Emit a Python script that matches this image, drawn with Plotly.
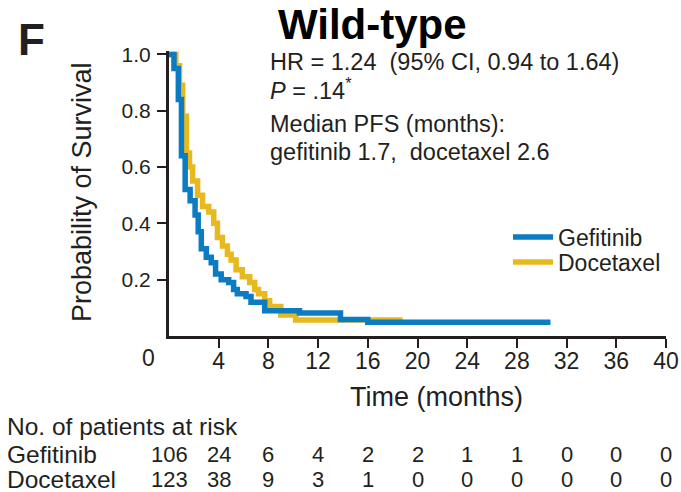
import plotly.graph_objects as go

# ---- data ----
gef_time = [0, 0.4, 0.75, 1.0, 1.3, 1.7, 2.1, 2.35, 2.6, 3.0, 3.4, 3.75, 4.2, 4.8, 5.2, 5.5, 6.2, 6.6, 7.7, 10.5, 13.8, 16.0, 30.7]
gef_surv = [1.0, 0.95, 0.84, 0.64, 0.52, 0.48, 0.43, 0.37, 0.31, 0.28, 0.26, 0.22, 0.20, 0.19, 0.165, 0.15, 0.14, 0.12, 0.09, 0.082, 0.059, 0.049, 0.049]

doc_time = [0, 0.55, 0.85, 1.1, 1.4, 1.65, 1.9, 2.3, 2.7, 3.2, 3.6, 3.9, 4.3, 4.7, 5.0, 5.4, 5.9, 6.5, 6.9, 7.2, 7.7, 8.1, 9.0, 10.2, 18.8]
doc_surv = [1.0, 0.96, 0.89, 0.78, 0.65, 0.60, 0.55, 0.50, 0.46, 0.44, 0.40, 0.35, 0.32, 0.29, 0.27, 0.235, 0.21, 0.19, 0.165, 0.15, 0.125, 0.105, 0.075, 0.057, 0.057]

x_ticks = [0, 4, 8, 12, 16, 20, 24, 28, 32, 36, 40]
y_ticks = [0.2, 0.4, 0.6, 0.8, 1.0]
y_ticklabels = ["0.2", "0.4", "0.6", "0.8", "1.0"]

risk_gef = [106, 24, 6, 4, 2, 2, 1, 1, 0, 0, 0]
risk_doc = [123, 38, 9, 3, 1, 0, 0, 0, 0, 0, 0]

BLUE = "#0B7BC2"
YELLOW = "#E8B91E"
INK = "#231f20"
SANS = "Liberation Sans, Arial, sans-serif"

W, H = 681, 492
L, R, T, B = 169, 15, 51, 156
PW, PH = W - L - R, H - T - B
Y0 = H - B  # pixel of paper y = 0


def px(xp):
    return (xp - L) / PW


def py(yp):
    return (Y0 - yp) / PH


fig = go.Figure()
fig.add_trace(go.Scatter(x=doc_time, y=doc_surv, mode="lines", name="Docetaxel",
                         line=dict(color=YELLOW, width=5.5, shape="hv"), legend="legend2"))
fig.add_trace(go.Scatter(x=gef_time, y=gef_surv, mode="lines", name="Gefitinib",
                         line=dict(color=BLUE, width=5.5, shape="hv"), legend="legend"))

ann = []
# panel letter and title
ann.append(dict(text="<b>F</b>", x=px(31), y=py(39), font=dict(family=SANS, size=44, color=INK)))
ann.append(dict(text="<b>Wild-type</b>", x=px(372), y=py(25), font=dict(family=SANS, size=42, color="#000")))
# stats text
stats = [("HR = 1.24  (95% CI, 0.94 to 1.64)", 62),
         ("<i>P</i> = .14<sup>*</sup>", 89),
         ("Median PFS (months):", 124),
         ("gefitinib 1.7,  docetaxel 2.6", 152)]
for s, yy in stats:
    ann.append(dict(text=s, x=px(268), y=py(yy), xanchor="left", font=dict(family=SANS, size=23.5, color=INK)))
# axis titles
ann.append(dict(text="Time (months)", x=px(436), y=py(397), font=dict(family=SANS, size=27, color=INK)))
ann.append(dict(text="Probability of Survival", x=px(82), y=py(192), textangle=-90,
                font=dict(family=SANS, size=27, color=INK)))
# x tick label at 0 (offset to the left of the axis corner)
ann.append(dict(text="0", x=px(148), y=py(358), font=dict(family=SANS, size=23, color=INK)))
# risk table
ann.append(dict(text="No. of patients at risk", x=px(5), y=py(426), xanchor="left",
                font=dict(family=SANS, size=24.5, color=INK)))
ann.append(dict(text="Gefitinib", x=px(5), y=py(454), xanchor="left", font=dict(family=SANS, size=24.5, color=INK)))
ann.append(dict(text="Docetaxel", x=px(5), y=py(479), xanchor="left", font=dict(family=SANS, size=24.5, color=INK)))
for t, g, d in zip(x_ticks, risk_gef, risk_doc):
    ann.append(dict(text=str(g), x=t, xref="x", y=py(454), font=dict(family=SANS, size=22, color=INK)))
    ann.append(dict(text=str(d), x=t, xref="x", y=py(479), font=dict(family=SANS, size=22, color=INK)))

for a in ann:
    a.setdefault("xref", "paper")
    a.setdefault("yref", "paper")
    a["showarrow"] = False
    a.setdefault("xanchor", "center")
    a["yanchor"] = "middle"

leg_common = dict(xanchor="left", yanchor="middle", font=dict(family=SANS, size=23, color=INK),
                  bgcolor="rgba(0,0,0,0)", itemwidth=40)

fig.update_layout(
    width=W, height=H,
    margin=dict(l=L, r=R, t=T, b=B, pad=0, autoexpand=False),
    paper_bgcolor="white", plot_bgcolor="white",
    showlegend=True,
    legend=dict(x=px(508), y=py(237), **leg_common),
    legend2=dict(x=px(508), y=py(262), **leg_common),
    annotations=ann,
    xaxis=dict(range=[0, 40], tickvals=x_ticks[1:], ticks="outside", ticklen=9, tickwidth=2,
               tickcolor=INK, showline=True, linewidth=3, linecolor=INK, showgrid=False,
               zeroline=False, automargin=False, ticklabelstandoff=-7,
               tickfont=dict(family=SANS, size=23, color=INK)),
    yaxis=dict(range=[0, 1.012], tickvals=y_ticks, ticktext=y_ticklabels, ticks="outside",
               ticklen=9, tickwidth=2, tickcolor=INK, showline=True, linewidth=3, linecolor=INK,
               showgrid=False, zeroline=False, automargin=False, ticklabelstandoff=2,
               tickfont=dict(family=SANS, size=21, color=INK)),
)

fig.write_html("out.html")
